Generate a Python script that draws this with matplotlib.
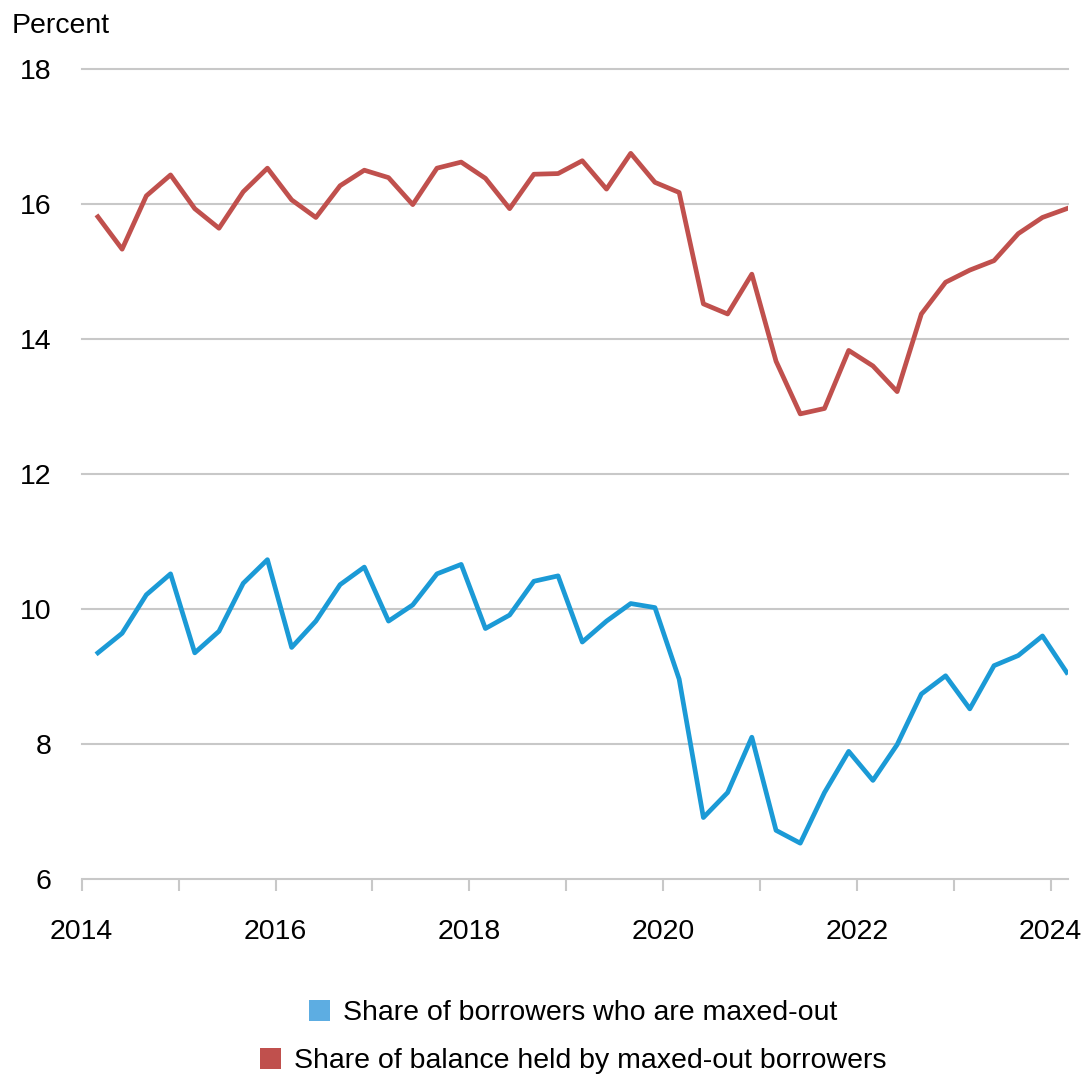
import matplotlib.pyplot as plt
from matplotlib.patches import Patch

# quarterly data, 2014Q1 - 2024Q1
year0 = 2014
n_quarters = 41

borrowers_maxed = [9.35, 9.64, 10.21, 10.52, 9.35, 9.67, 10.38, 10.73, 9.43, 9.82,
                   10.36, 10.62, 9.82, 10.06, 10.52, 10.66, 9.71, 9.91, 10.41, 10.49,
                   9.51, 9.82, 10.08, 10.02, 8.96, 6.91, 7.28, 8.10, 6.72, 6.53,
                   7.28, 7.89, 7.46, 7.99, 8.74, 9.01, 8.52, 9.16, 9.31, 9.60, 9.06]

balance_maxed = [15.81, 15.33, 16.12, 16.43, 15.93, 15.64, 16.18, 16.53, 16.06, 15.80,
                 16.27, 16.50, 16.39, 15.99, 16.53, 16.62, 16.38, 15.93, 16.44, 16.45,
                 16.64, 16.22, 16.75, 16.32, 16.17, 14.52, 14.37, 14.96, 13.67, 12.89,
                 12.97, 13.83, 13.60, 13.22, 14.37, 14.84, 15.02, 15.16, 15.56, 15.80, 15.93]

labels = ['Share of borrowers who are maxed-out',
          'Share of balance held by maxed-out borrowers']

x = [year0 + (3 * i + 2) / 12 for i in range(n_quarters)]

blue_line = '#1B9AD6'
blue_box = '#5DADE2'
red = '#C0504D'
grid_col = '#C8C8C8'
fs = 20.5

plt.rcParams['font.family'] = ['Liberation Sans', 'DejaVu Sans']

fig = plt.figure(figsize=(10.87, 10.79), dpi=100)
ax = fig.add_axes([0.0752, 0.1854, 0.9073, 0.7507])

ax.plot(x, balance_maxed, color=red, lw=3.4)
ax.plot(x, borrowers_maxed, color=blue_line, lw=3.4)

ax.set_xlim(2014, 2024.18)
ax.set_ylim(6, 18)
ax.set_yticks(range(6, 19, 2))
ax.set_xticks(range(2014, 2025, 2))
ax.set_xticks(range(2015, 2024, 2), minor=True)

for s in ax.spines.values():
    s.set_visible(False)

ax.grid(axis='y', color=grid_col, lw=1.5)
for gl in ax.get_ygridlines():
    gl.set_clip_on(False)
ax.set_axisbelow(True)

ax.tick_params(axis='y', length=0, pad=22, labelsize=fs)
ax.tick_params(axis='x', which='both', length=8.6, width=1.5, color=grid_col,
               pad=20, labelsize=fs)

fig.text(12 / 1087, 1 - 33 / 1079, 'Percent', fontsize=fs, va='baseline', ha='left')

handles = [Patch(facecolor=blue_box, edgecolor='none'),
           Patch(facecolor=red, edgecolor='none')]
ys = [1 - 1013 / 1079, 1 - 1061 / 1079]
for h, lab, yy in zip(handles, labels, ys):
    fig.legend([h], [lab], loc='center', bbox_to_anchor=(573 / 1087, yy),
               frameon=False, fontsize=fs, handlelength=0.75, handleheight=0.75,
               handletextpad=0.45, borderpad=0, borderaxespad=0)

fig.savefig('out.png', dpi=100)
